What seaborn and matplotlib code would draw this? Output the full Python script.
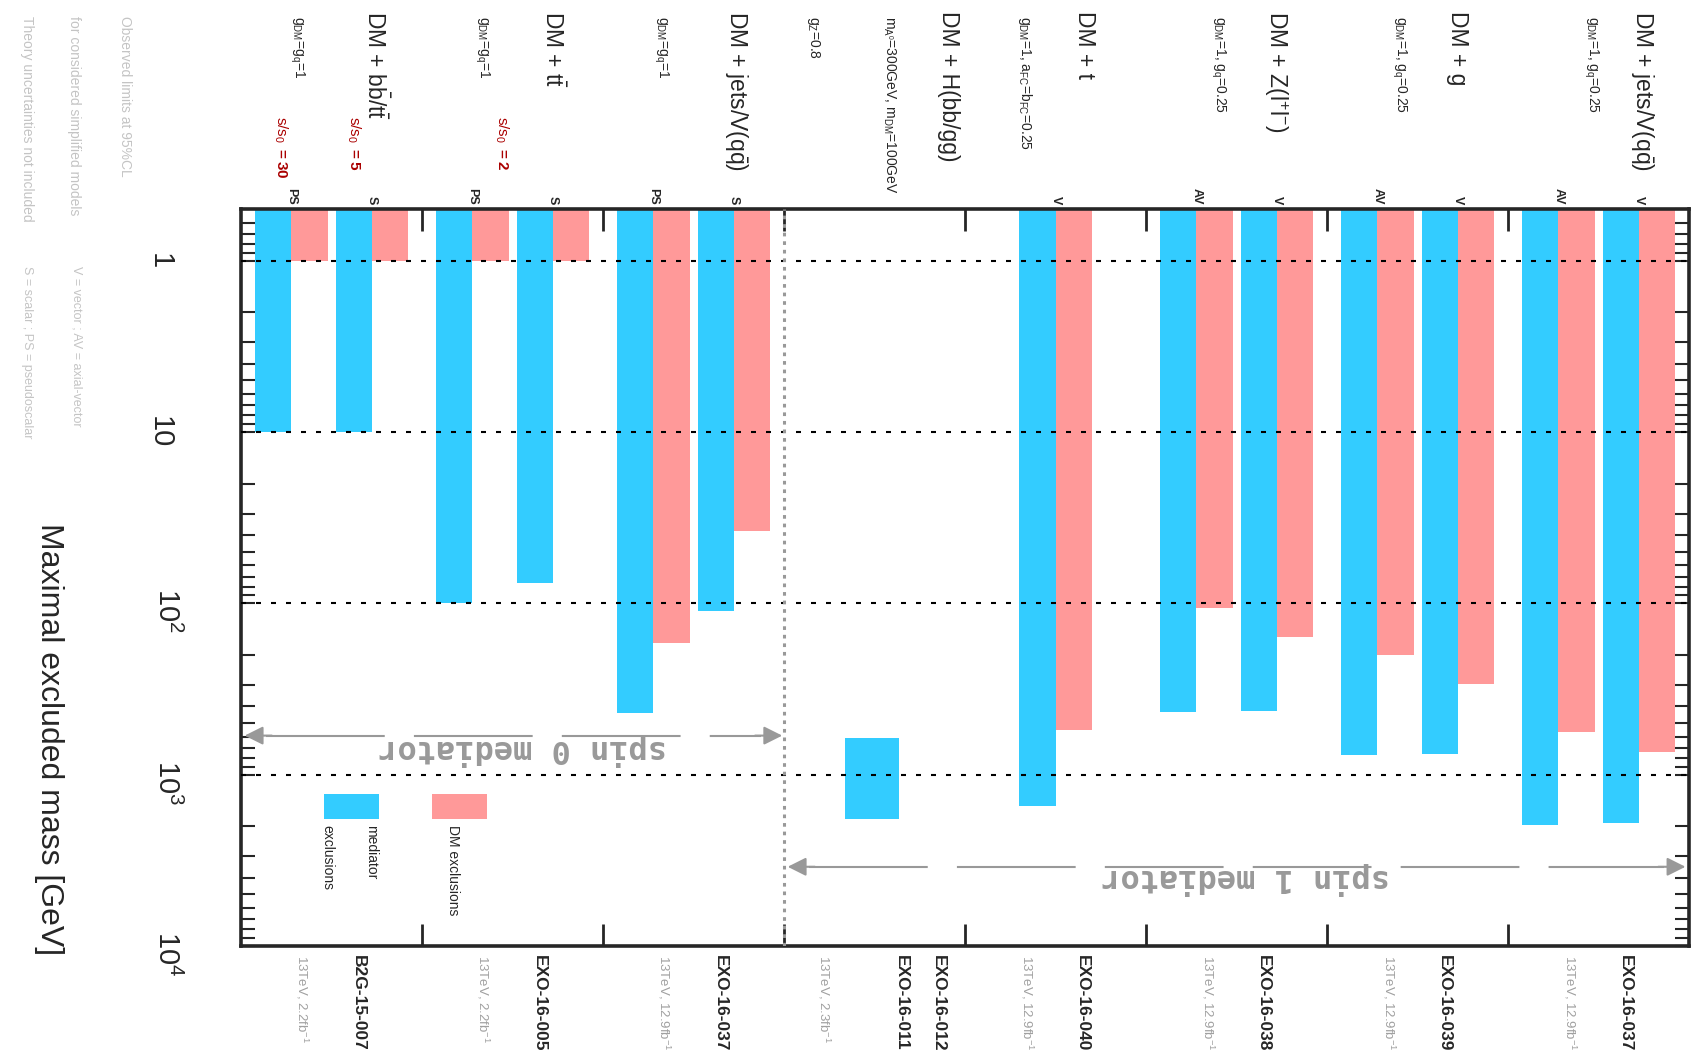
import numpy as np
import pandas as pd
import seaborn as sns
import matplotlib.pyplot as plt
import matplotlib.transforms as mtransforms
from matplotlib.patches import Rectangle

# ---- data (left to right) ----
analyses = ['B2G-15-007', 'EXO-16-005', 'EXO-16-037', 'EXO-16-011', 'EXO-16-040',
            'EXO-16-038', 'EXO-16-039', 'EXO-16-037']
lumis = ['2.2', '2.2', '12.9', '2.3', '12.9', '12.9', '12.9', '12.9']
channels = ['DM + b$\\bar{b}$/t$\\bar{t}$', 'DM + t$\\bar{t}$', 'DM + jets/V(q$\\bar{q}$)',
            'DM + H(bb/gg)', 'DM + t', 'DM + Z($l^{+}l^{-}$)', 'DM + g',
            'DM + jets/V(q$\\bar{q}$)']
couplings = ['$g_{DM}$=$g_{q}$=1', '$g_{DM}$=$g_{q}$=1', '$g_{DM}$=$g_{q}$=1',
             '$m_{A^{0}}$=300GeV, $m_{DM}$=100GeV', '$g_{DM}$=1, $a_{FC}$=$b_{FC}$=0.25',
             '$g_{DM}$=1, $g_{q}$=0.25', '$g_{DM}$=1, $g_{q}$=0.25', '$g_{DM}$=1, $g_{q}$=0.25']

bar_analysis = [0, 0, 1, 1, 2, 2, 4, 5, 5, 6, 6, 7, 7]
bar_model = ['PS', 'S', 'PS', 'S', 'PS', 'S', 'V', 'AV', 'V', 'AV', 'V', 'AV', 'V']
mediator_limit = [10, 10, 100, 76, 436, 111, 1527, 430, 423, 769, 758, 1955, 1910]
dm_limit = [1, 1, 1, 1, 171, 38, 550, 106, 157, 201, 294, 566, 736]

monohiggs_range = [609, 1817]   # EXO-16-011, excluded Z' mass window

ratio_analysis = [0, 0, 1]
ratio_model = ['PS', 'S', None]
ratio_value = ['30', '5', '2']

BLUE = '#33CCFF'
RED = '#FF9999'
GRAY = '#999999'
LIGHT = '#C4C4C4'
DARKRED = '#AA0000'

sns.set_style('white')
plt.rcParams['font.family'] = ['Liberation Sans', 'DejaVu Sans']
plt.rcParams['mathtext.fontset'] = 'custom'
plt.rcParams['mathtext.rm'] = 'Liberation Sans'
plt.rcParams['mathtext.it'] = 'Liberation Sans'
plt.rcParams['mathtext.bf'] = 'Liberation Sans:bold'
plt.rcParams['mathtext.default'] = 'rm'

# ---- bar positions: two model pairs per analysis, one pair centred ----
n_pairs = pd.Series(bar_analysis).value_counts()
shift = {'PS': -0.222, 'AV': -0.222, 'S': 0.222, 'V': 0.222}
pos = [round(a + 0.5 + (shift[m] if n_pairs[a] > 1 else 0.0), 3)
       for a, m in zip(bar_analysis, bar_model)]

df = pd.DataFrame({
    'pos': pos + pos,
    'mass': mediator_limit + dm_limit,
    'kind': ['mediator'] * len(pos) + ['DM'] * len(pos),
})

fig = plt.figure(figsize=(17.01, 10.54), dpi=100)
ax = fig.add_axes([0.1417, 0.1025, 0.8513, 0.6992])

sns.barplot(data=df, x='pos', y='mass', hue='kind', hue_order=['mediator', 'DM'],
            palette=[BLUE, RED], native_scale=True, width=0.9, saturation=1,
            errorbar=None, legend=False, linewidth=0, ax=ax)

# floating mono-Higgs window
ax.bar(3.485, monohiggs_range[1] - monohiggs_range[0], bottom=monohiggs_range[0],
       width=0.3, color=BLUE, linewidth=0)

ax.set_yscale('log')
ax.set_ylim(1e4, 0.5)
ax.set_xlim(0, 8)
ax.set_xlabel('')
ax.set_ylabel('')

for v in [1, 10, 100, 1000]:
    ax.axhline(v, color='black', lw=1.5, ls=(0, (2.4, 4.8)), zorder=3)
ax.axvline(3, color=GRAY, lw=2.2, ls=(0, (1.2, 1.6)), zorder=4)

for s in ax.spines.values():
    s.set_linewidth(2.6)
ax.set_xticks(range(1, 8))
ax.tick_params(axis='x', which='major', direction='in', length=16, width=2,
               top=True, bottom=True, labelbottom=False)
ax.tick_params(axis='y', which='both', direction='in', length=10, width=1.5,
               left=True, right=True, labelleft=False)

# ---- spin arrows ----
def spin_arrow(x0, x1, y, ytext, label):
    ax.plot([x0 + 0.12, x1 - 0.12], [y, y], color=GRAY, lw=1.5, ls=(0, (57, 14)),
            solid_capstyle='butt', zorder=5)
    for a, b in [(x0, x0 + 0.15), (x1, x1 - 0.15)]:
        ax.annotate('', xy=(a, y), xytext=(b, y),
                    arrowprops=dict(arrowstyle='-|>', color=GRAY, lw=1.5,
                                    mutation_scale=28, shrinkA=0, shrinkB=0))
    ax.text((x0 + x1) / 2 + 0.05, ytext, label, rotation=180, ha='center', va='center',
            family=['DejaVu Sans Mono'], weight='bold', color=GRAY, fontsize=23)

spin_arrow(0.02, 2.99, 592, 715, 'spin 0 mediator')
spin_arrow(3.02, 7.98, 3450, 4050, 'spin 1 mediator')

# ---- legend drawn inside the frame ----
ax.add_patch(Rectangle((0.459, 1300), 0.303, 517, color=BLUE, lw=0))
ax.add_patch(Rectangle((1.055, 1300), 0.303, 517, color=RED, lw=0))
ax.text(0.718, 1970, 'mediator', rotation=-90, ha='center', va='top', fontsize=10)
ax.text(0.475, 1970, 'exclusions', rotation=-90, ha='center', va='top', fontsize=10)
ax.text(1.171, 1970, 'DM exclusions', rotation=-90, ha='center', va='top', fontsize=10)

# ---- labels above and below the frame ----
top = mtransforms.blended_transform_factory(ax.transData, fig.transFigure)
frame_top = mtransforms.blended_transform_factory(ax.transData, ax.transAxes)

title_off = [0.74, 0.72, 0.74, 0.91, 0.66, 0.72, 0.72, 0.74]
coup_off = [0.31, 0.33, 0.32, 0.58, 0.33, 0.40, 0.40, 0.46]
for i in range(len(analyses)):
    ax.text(i + title_off[i], 0.99, channels[i], transform=top, rotation=-90,
            ha='center', va='top', fontsize=16.5)
    ax.text(i + coup_off[i], 0.985, couplings[i], transform=top, rotation=-90,
            ha='center', va='top', fontsize=10)
ax.text(3.16, 0.985, '$g_{Z}$=0.8', transform=top, rotation=-90,
        ha='center', va='top', fontsize=10)

for p, m in zip(pos, bar_model):
    ax.text(p, 1.006, m, transform=frame_top, rotation=-90, ha='center', va='bottom',
            fontsize=9, weight='bold')

ratio_x = {'PS': 0.22, 'S': 0.62, None: 0.44}
for a, m, r in zip(ratio_analysis, ratio_model, ratio_value):
    ax.text(a + ratio_x[m], 0.89, '$s/s_{0}$ $\\mathbf{= ' + r + '}$', transform=top,
            rotation=-90, ha='center', va='top', fontsize=11, color=DARKRED)

for i, name in enumerate(analyses):
    ax.text(i + 0.65, 0.094, name, transform=top, rotation=-90, ha='center', va='top',
            fontsize=12.5, weight='bold')
    ax.text(i + 0.34 if i != 3 else 3.22, 0.094, '13TeV, ' + lumis[i] + 'fb$^{-1}$',
            transform=top, rotation=-90, ha='center', va='top', fontsize=9.5,
            color='#A0A0A0')
ax.text(3.85, 0.094, 'EXO-16-012', transform=top, rotation=-90, ha='center', va='top',
        fontsize=12.5, weight='bold')

# ---- mass axis labels on the left ----
left = mtransforms.blended_transform_factory(fig.transFigure, ax.transData)
tick_text = ['1', '10', '$10^{2}$', '$10^{3}$', '$10^{4}$']
for k, t in enumerate(tick_text):
    v = 10.0 ** k
    if k < 2:
        ax.text(0.094, v, t, transform=left, rotation=-90, ha='center', va='center',
                fontsize=21)
    else:
        tr = mtransforms.offset_copy(left, fig=fig, x=0, y=15, units='dots')
        ax.text(0.098, v, t, transform=tr, rotation=-90, ha='center', va='top',
                fontsize=21)

fig.text(0.029, 0.094, 'Maximal excluded mass [GeV]', rotation=-90, ha='center',
         va='bottom', fontsize=23)

notes = ['Observed limits at 95%CL', 'for considered simplified models',
         'Theory uncertainties not included']
for x, t in zip([0.0735, 0.0435, 0.0159], notes):
    fig.text(x, 0.985, t, rotation=-90, ha='center', va='top', fontsize=10, color=LIGHT)
fig.text(0.0447, 0.748, 'V = vector ; AV = axial-vector', rotation=-90, ha='center',
         va='top', fontsize=9, color=LIGHT)
fig.text(0.0159, 0.748, 'S = scalar ; PS = pseudoscalar', rotation=-90, ha='center',
         va='top', fontsize=9, color=LIGHT)

fig.savefig('out.png', dpi=100)
